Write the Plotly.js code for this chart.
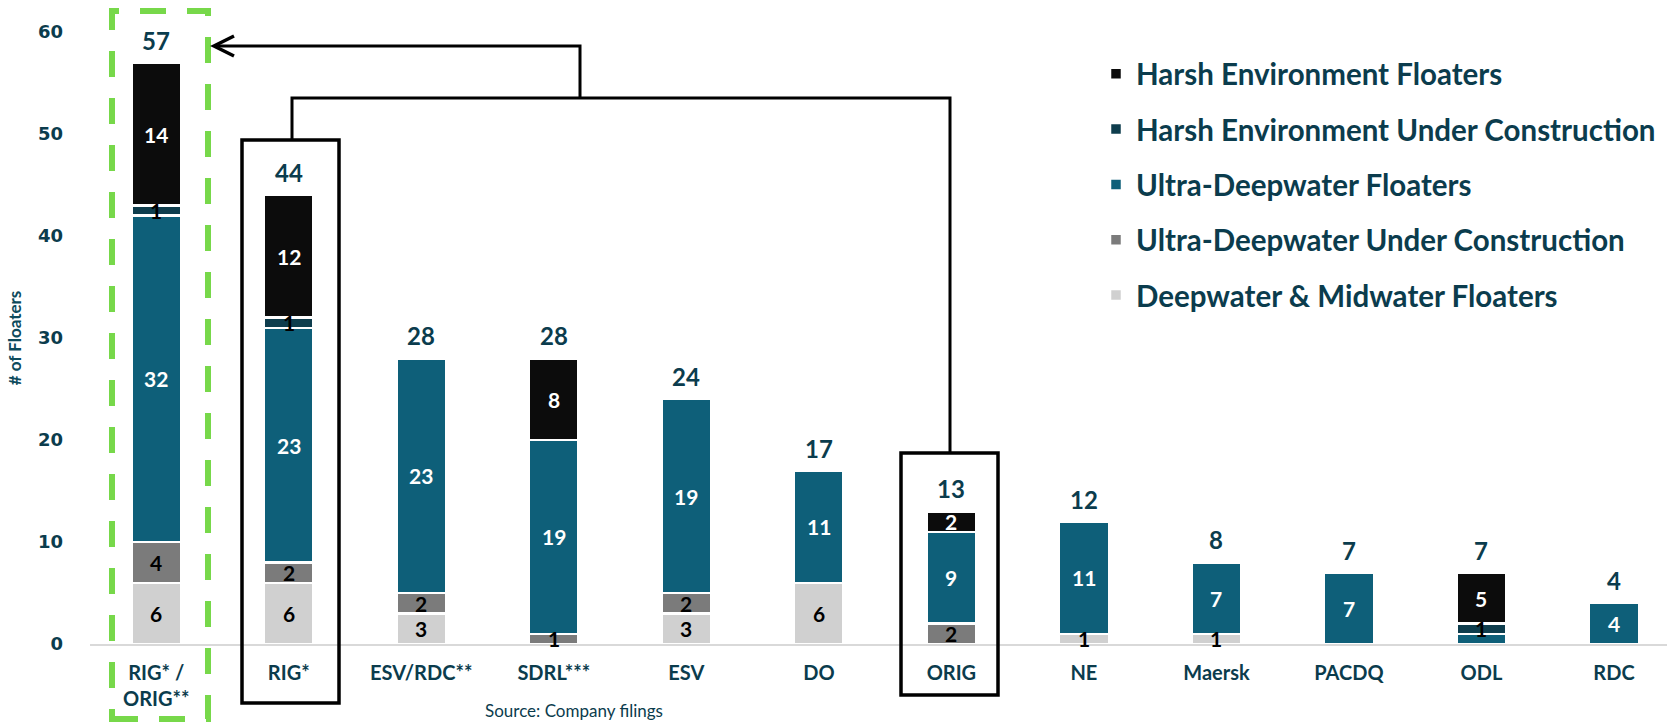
<!DOCTYPE html>
<html><head><meta charset="utf-8">
<script src="https://cdn.plot.ly/plotly-3.0.1.min.js"></script>
<style>html,body{margin:0;padding:0;background:#fff}#chart{width:1670px;height:722px}</style>
</head><body><div id="chart"></div>
<script>
// ---- data ----
const categories = ['RIG* /<br>ORIG**', 'RIG*', 'ESV/RDC**', 'SDRL***', 'ESV', 'DO', 'ORIG', 'NE', 'Maersk', 'PACDQ', 'ODL', 'RDC'];
const deepMidFloaters   = [6, 6, 3, 0, 3, 6, 0, 1, 1, 0, 0, 0];
const udwUnderConst     = [4, 2, 2, 1, 2, 0, 2, 0, 0, 0, 0, 0];
const udwFloaters       = [32, 23, 23, 19, 19, 11, 9, 11, 7, 7, 1, 4];
const harshUnderConst   = [1, 1, 0, 0, 0, 0, 0, 0, 0, 0, 1, 0];
const harshFloaters     = [14, 12, 0, 8, 0, 0, 2, 0, 0, 0, 5, 0];
// a segment label that is hidden in the original (it overlaps its neighbour)
const udwLabelHidden    = [false, false, false, false, false, false, false, false, false, false, true, false];
const yTicks = [0, 10, 20, 30, 40, 50, 60];

// ---- layout geometry ----
const W = 1670, H = 722, L = 90, R = 3, T = 32, B = 78;
const pw = W - L - R, ph = H - T - B;
const px = x => (x - L) / pw;
const py = y => (H - B - y) / ph;

const DARK = '#0b3c4d';
const LATO = 'Lato, "Open Sans", sans-serif';
const DEJA = '"DejaVu Sans", Verdana, sans-serif';

// series from bottom to top of the stack
const series = [
  {name: 'Deepwater & Midwater Floaters', vals: deepMidFloaters, color: '#d0d0d0', txt: '#000000', rank: 5},
  {name: 'Ultra-Deepwater Under Construction', vals: udwUnderConst, color: '#7b7b7b', txt: '#000000', rank: 4},
  {name: 'Ultra-Deepwater Floaters', vals: udwFloaters, color: '#0e5f79', txt: '#ffffff', rank: 3, hidden: udwLabelHidden},
  {name: 'Harsh Environment Under Construction', vals: harshUnderConst, color: '#0e3d4d', txt: '#000000', rank: 2},
  {name: 'Harsh Environment Floaters', vals: harshFloaters, color: '#0c0c0c', txt: '#ffffff', rank: 1}
];

const traces = series.map(s => ({
  type: 'bar', name: s.name, x: categories, y: s.vals,
  marker: {color: s.color, line: {color: '#ffffff', width: 2.5}},
  legendgroup: s.name, legendrank: s.rank, hoverinfo: 'skip'
}));

const annotations = [];
// segment labels, centred in each segment
const base = categories.map(() => 0);
series.forEach(s => {
  s.vals.forEach((v, i) => {
    if (v > 0 && !(s.hidden && s.hidden[i])) {
      annotations.push({
        x: categories[i], y: base[i] + v / 2, xref: 'x', yref: 'y', text: String(v),
        showarrow: false, xanchor: 'center', yanchor: 'middle',
        font: {family: LATO, size: 21, weight: 700, color: s.txt}
      });
    }
    base[i] += v;
  });
});
// totals above the bars
base.forEach((t, i) => {
  annotations.push({
    x: categories[i], y: t, xref: 'x', yref: 'y', text: String(t),
    showarrow: false, yanchor: 'bottom', yshift: 6,
    font: {family: LATO, size: 24, weight: 700, color: DARK}
  });
});
annotations.push({
  xref: 'paper', yref: 'paper', x: px(574), y: py(710), text: 'Source: Company filings',
  showarrow: false, xanchor: 'center', yanchor: 'middle',
  font: {family: LATO, size: 17, color: DARK}
});

const black = {color: '#000000', width: 3.5};
const shapes = [
  {type: 'rect', xref: 'paper', yref: 'paper', x0: px(112), x1: px(208), y0: py(719), y1: py(11),
   line: {color: '#77d84a', width: 6, dash: '26px,21px'}},
  {type: 'rect', xref: 'paper', yref: 'paper', x0: px(242), x1: px(339), y0: py(703), y1: py(140), line: black},
  {type: 'rect', xref: 'paper', yref: 'paper', x0: px(901), x1: px(998), y0: py(695), y1: py(453), line: black},
  {type: 'path', xref: 'paper', yref: 'paper', line: {color: '#000000', width: 3},
   path: `M${px(292)},${py(140)} L${px(292)},${py(98)} L${px(950)},${py(98)} L${px(950)},${py(453)}`},
  {type: 'path', xref: 'paper', yref: 'paper', line: {color: '#000000', width: 3},
   path: `M${px(580)},${py(98)} L${px(580)},${py(46)} L${px(215)},${py(46)}`},
  {type: 'path', xref: 'paper', yref: 'paper', line: {color: '#000000', width: 3.5},
   path: `M${px(234)},${py(36)} L${px(214)},${py(46)} L${px(234)},${py(56)}`}
];

const layout = {
  width: W, height: H,
  margin: {l: L, r: R, t: T, b: B, pad: 0},
  paper_bgcolor: '#ffffff', plot_bgcolor: '#ffffff',
  barmode: 'stack', bargap: 0.625,
  showlegend: true,
  legend: {
    x: px(1096), y: py(48), xanchor: 'left', yanchor: 'top',
    traceorder: 'grouped', tracegroupgap: 14,
    font: {family: LATO, size: 29.5, weight: 700, color: DARK},
    bgcolor: 'rgba(0,0,0,0)', borderwidth: 0
  },
  xaxis: {
    type: 'category', range: [-0.5, 11.4], showgrid: false, zeroline: false,
    showline: true, linecolor: '#d9d9d9', linewidth: 2, ticks: '',
    ticklabelstandoff: 10,
    tickfont: {family: LATO, size: 20, weight: 700, color: DARK}
  },
  yaxis: {
    range: [0, 60], tickvals: yTicks, showgrid: false, zeroline: false, showline: false, ticks: '',
    ticklabelstandoff: 26,
    tickfont: {family: DEJA, size: 18, weight: 700, color: DARK},
    title: {text: '# of Floaters', standoff: 11, font: {family: LATO, size: 17, weight: 700, color: '#0d4a5c'}}
  },
  annotations: annotations,
  shapes: shapes
};

Plotly.newPlot('chart', traces, layout, {displayModeBar: false, staticPlot: true});
</script>
</body></html>
